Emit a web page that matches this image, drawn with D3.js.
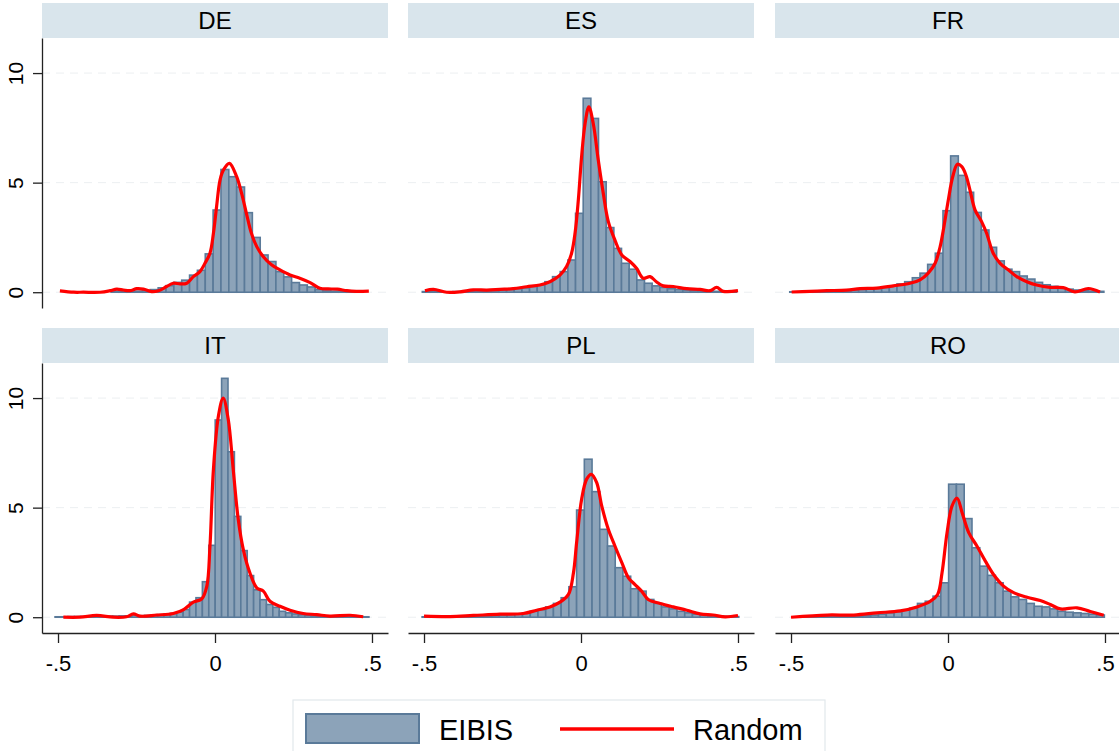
<!DOCTYPE html>
<html>
<head>
<meta charset="utf-8">
<script src="https://cdn.jsdelivr.net/npm/d3@7"></script>
<style>
  body { margin: 0; background: #fff; }
  text { font-family: "Liberation Sans", Arial, sans-serif; fill: #000; }
</style>
</head>
<body>
<div id="chart"></div>
<script>
const countries = ["DE", "ES", "FR", "IT", "PL", "RO"];
const yTicks = [0, 5, 10];
const xTicks = [-0.5, 0, 0.5];
const xTickLabels = ["-.5", "0", ".5"];
const seriesNames = ["EIBIS", "Random"];

// histogram: first bin edge and bin width per country
const binStart = [-0.506, -0.5054, -0.504, -0.5094, -0.506, -0.494];
const binWidth = [0.025, 0.0244, 0.0244, 0.0204, 0.0246, 0.0248];

// EIBIS densities per bin
const deBars = [0, 0, 0, 0, 0, 0, 0, 0.05, 0.05, 0.02, 0.05, 0.08, 0.12, 0.2, 0.3, 0.45, 0.55, 0.78, 1.0, 1.75,
  3.75, 5.6, 5.27, 4.8, 3.63, 2.5, 1.7, 1.4, 0.94, 0.7, 0.44, 0.33, 0.24, 0.12, 0.06, 0.05, 0.03, 0.02, 0.01, 0];
const esBars = [0.03, 0.02, 0.02, 0.02, 0.03, 0.03, 0.04, 0.05, 0.06, 0.08, 0.1, 0.12, 0.16, 0.2, 0.26, 0.33, 0.48, 0.71, 0.94, 1.47,
  3.6, 8.85, 7.93, 5.04, 2.95, 2.0, 1.32, 1.05, 0.56, 0.41, 0.29, 0.22, 0.16, 0.12, 0.1, 0.08, 0.06, 0.05, 0.04, 0.03, 0.02];
const frBars = [0.02, 0.02, 0.03, 0.03, 0.04, 0.05, 0.06, 0.08, 0.1, 0.12, 0.14, 0.17, 0.22, 0.29, 0.38, 0.48, 0.66, 0.87, 1.27, 1.78,
  3.72, 6.22, 5.33, 4.56, 3.64, 2.84, 2.05, 1.43, 1.05, 0.94, 0.74, 0.6, 0.45, 0.34, 0.27, 0.2, 0.14, 0.1, 0.07, 0.05, 0.04];
const itBars = [0.02, 0.02, 0.03, 0.03, 0.03, 0.04, 0.04, 0.04, 0.05, 0.05, 0.06, 0.06, 0.1, 0.07, 0.08, 0.1, 0.12, 0.14, 0.17, 0.23,
  0.35, 0.69, 0.89, 1.62, 3.28, 9.0, 10.9, 7.55, 4.6, 3.04, 1.9, 1.25, 0.8, 0.58, 0.45, 0.27, 0.2, 0.15, 0.11, 0.09,
  0.07, 0.05, 0.04, 0.04, 0.03, 0.03, 0.02, 0.02, 0.02];
const plBars = [0.02, 0.02, 0.02, 0.02, 0.03, 0.03, 0.04, 0.05, 0.07, 0.08, 0.1, 0.12, 0.15, 0.2, 0.27, 0.34, 0.47, 0.63, 0.89, 1.39,
  4.89, 7.21, 5.73, 4.01, 3.25, 2.26, 1.87, 1.3, 1.19, 0.81, 0.63, 0.47, 0.38, 0.27, 0.2, 0.14, 0.1, 0.07, 0.05, 0.04, 0.03];
const roBars = [0.01, 0.02, 0.02, 0.02, 0.03, 0.03, 0.04, 0.05, 0.06, 0.08, 0.1, 0.14, 0.2, 0.25, 0.34, 0.41, 0.63, 0.73, 0.96, 1.57,
  6.07, 6.07, 4.5, 3.17, 2.33, 1.91, 1.57, 1.19, 0.93, 0.81, 0.63, 0.5, 0.47, 0.38, 0.27, 0.23, 0.2, 0.17, 0.14, 0.1];

// Random: kernel density points [x, density]
const deLine = [[-0.494, 0.06], [-0.45, 0.0], [-0.419, 0.0], [-0.366, 0.0], [-0.334, 0.07], [-0.313, 0.14], [-0.292, 0.1],
  [-0.271, 0.07], [-0.249, 0.16], [-0.228, 0.14], [-0.202, 0.03], [-0.18, 0.07], [-0.154, 0.26], [-0.133, 0.41],
  [-0.111, 0.38], [-0.09, 0.41], [-0.069, 0.71], [-0.048, 0.94], [-0.032, 1.32], [-0.016, 1.78], [-0.005, 2.69],
  [0.005, 3.9], [0.016, 5.12], [0.027, 5.58], [0.046, 5.88], [0.069, 5.27], [0.085, 4.5], [0.1, 3.6], [0.116, 2.69],
  [0.133, 2.08], [0.154, 1.62], [0.18, 1.25], [0.207, 1.02], [0.239, 0.79], [0.27, 0.64], [0.303, 0.44], [0.334, 0.18],
  [0.36, 0.15], [0.39, 0.14], [0.42, 0.07], [0.45, 0.04], [0.49, 0.05]];
const esLine = [[-0.497, 0.07], [-0.47, 0.13], [-0.428, 0.0], [-0.385, 0.02], [-0.343, 0.11], [-0.3, 0.1], [-0.258, 0.13],
  [-0.216, 0.16], [-0.173, 0.25], [-0.131, 0.33], [-0.099, 0.48], [-0.067, 0.78], [-0.046, 1.17], [-0.03, 1.78],
  [-0.019, 2.69], [-0.0085, 4.21], [0.002, 6.2], [0.013, 7.7], [0.025, 8.46], [0.039, 7.7], [0.055, 6.03], [0.071, 4.51],
  [0.087, 3.22], [0.108, 2.38], [0.13, 1.7], [0.156, 1.4], [0.177, 1.09], [0.198, 0.64], [0.22, 0.71], [0.24, 0.48],
  [0.262, 0.29], [0.294, 0.26], [0.337, 0.16], [0.379, 0.13], [0.411, 0.07], [0.432, 0.22], [0.453, 0.04], [0.5, 0.07]];
const frLine = [[-0.498, 0.01], [-0.44, 0.04], [-0.386, 0.07], [-0.323, 0.1], [-0.28, 0.16], [-0.227, 0.19], [-0.174, 0.29],
  [-0.121, 0.41], [-0.089, 0.56], [-0.063, 0.87], [-0.041, 1.32], [-0.025, 2.08], [-0.013, 2.99], [0.001, 4.21],
  [0.015, 5.27], [0.03, 5.84], [0.044, 5.73], [0.057, 5.35], [0.07, 4.66], [0.086, 3.76], [0.107, 3.22], [0.123, 2.69],
  [0.144, 1.78], [0.166, 1.32], [0.192, 1.02], [0.219, 0.71], [0.251, 0.48], [0.282, 0.33], [0.325, 0.22], [0.367, 0.21],
  [0.404, 0.02], [0.447, 0.17], [0.484, 0.01]];
const itLine = [[-0.483, 0.0], [-0.43, 0.0], [-0.377, 0.08], [-0.324, 0.0], [-0.282, 0.02], [-0.26, 0.15], [-0.239, 0.05],
  [-0.186, 0.1], [-0.133, 0.17], [-0.1, 0.35], [-0.069, 0.69], [-0.042, 0.84], [-0.026, 1.42], [-0.016, 3.25],
  [-0.005, 6.75], [0.011, 9.19], [0.026, 10.0], [0.042, 9.04], [0.058, 6.75], [0.074, 4.47], [0.09, 3.1], [0.111, 2.03],
  [0.133, 1.34], [0.154, 1.19], [0.175, 0.73], [0.207, 0.5], [0.239, 0.32], [0.281, 0.17], [0.324, 0.12], [0.366, 0.05],
  [0.43, 0.09], [0.472, 0.02]];
const plLine = [[-0.5, 0.05], [-0.417, 0.03], [-0.343, 0.08], [-0.258, 0.14], [-0.184, 0.17], [-0.141, 0.32], [-0.099, 0.47],
  [-0.067, 0.69], [-0.04, 1.04], [-0.024, 2.03], [-0.014, 3.4], [0.002, 5.38], [0.018, 6.3], [0.033, 6.52], [0.05, 6.14],
  [0.066, 5.08], [0.087, 4.01], [0.108, 3.25], [0.13, 2.49], [0.151, 1.8], [0.172, 1.49], [0.193, 1.19], [0.214, 0.81],
  [0.252, 0.63], [0.294, 0.47], [0.337, 0.32], [0.379, 0.15], [0.421, 0.1], [0.459, 0.02], [0.5, 0.08]];
const roLine = [[-0.5, 0.0], [-0.385, 0.1], [-0.3, 0.1], [-0.226, 0.2], [-0.152, 0.29], [-0.099, 0.47], [-0.056, 0.73],
  [-0.033, 1.04], [-0.019, 2.03], [-0.003, 3.86], [0.013, 5.08], [0.029, 5.43], [0.045, 4.77], [0.066, 3.86],
  [0.092, 3.25], [0.119, 2.56], [0.145, 1.95], [0.177, 1.42], [0.209, 1.12], [0.252, 0.91], [0.294, 0.76], [0.326, 0.58],
  [0.358, 0.38], [0.411, 0.43], [0.453, 0.26], [0.496, 0.09]];

const bars = [deBars, esBars, frBars, itBars, plBars, roBars];
const lines = [deLine, esLine, frLine, itLine, plLine, roLine];

const width = 1119, height = 751;
const panelW = 346, stripH = 35, plotH = 270;
const colX = [42, 408, 775];
const rowY = [3, 328];

const barFill = "#8ca3b9", barStroke = "#5a7a99", red = "#ff0000";

const svg = d3.select("#chart").append("svg")
  .attr("width", width)
  .attr("height", height)
  .attr("viewBox", [0, 0, width, height]);

const x = d3.scaleLinear().domain([-0.551, 0.551]).range([0, panelW]);
const y = d3.scaleLinear().domain([-0.72, 11.6]).range([plotH, 0]);

const line = d3.line()
  .x(d => x(d[0]))
  .y(d => y(d[1]))
  .curve(d3.curveCatmullRom.alpha(0.5));

countries.forEach((c, i) => {
  const col = i % 3, row = Math.floor(i / 3);
  const g = svg.append("g").attr("transform", `translate(${colX[col]},${rowY[row]})`);

  // strip
  g.append("rect")
    .attr("width", panelW)
    .attr("height", stripH)
    .attr("fill", "#d9e5ec");
  g.append("text")
    .attr("x", panelW / 2)
    .attr("y", 26)
    .attr("text-anchor", "middle")
    .style("font-size", "24px")
    .text(c);

  const p = g.append("g").attr("transform", `translate(0,${stripH})`);

  // grid
  p.selectAll("line.grid").data(yTicks).join("line")
    .attr("class", "grid")
    .attr("x1", 0).attr("x2", panelW)
    .attr("y1", d => y(d)).attr("y2", d => y(d))
    .attr("stroke", "#eceff1")
    .attr("stroke-width", 1)
    .attr("stroke-dasharray", "8,6");

  // bars
  const bins = bars[i].map((h, k) => ({
    x0: binStart[i] + k * binWidth[i],
    x1: binStart[i] + (k + 1) * binWidth[i],
    h
  })).filter(d => d.h > 0);
  p.selectAll("rect.bar").data(bins).join("rect")
    .attr("class", "bar")
    .attr("x", d => x(d.x0))
    .attr("y", d => y(d.h))
    .attr("width", d => x(d.x1) - x(d.x0))
    .attr("height", d => y(0) - y(d.h))
    .attr("fill", barFill)
    .attr("stroke", barStroke)
    .attr("stroke-width", 1.6);

  // density line
  p.append("path")
    .datum(lines[i])
    .attr("d", line)
    .attr("fill", "none")
    .attr("stroke", red)
    .attr("stroke-width", 3.2)
    .attr("stroke-linejoin", "round");

  if (col === 0) {
    const ax = p.append("g")
      .call(d3.axisLeft(y).tickValues(yTicks).tickSize(9).tickSizeOuter(0).tickFormat(d3.format("d")));
    ax.select(".domain").attr("stroke", "#222").attr("stroke-width", 1.3);
    ax.selectAll(".tick line").attr("stroke", "#222").attr("stroke-width", 1.3);
    ax.selectAll(".tick text")
      .attr("transform", "rotate(-90)")
      .attr("x", 0).attr("y", -19).attr("dy", 0)
      .attr("text-anchor", "middle")
      .style("font-size", "21px")
      .style("fill", "#000");
  }

  if (row === 1) {
    const ax = p.append("g")
      .attr("transform", `translate(0,${plotH})`)
      .call(d3.axisBottom(x).tickValues(xTicks).tickSize(10).tickSizeOuter(0)
        .tickFormat((d, k) => xTickLabels[k]));
    ax.select(".domain").attr("stroke", "#222").attr("stroke-width", 1.3);
    ax.selectAll(".tick line").attr("stroke", "#222").attr("stroke-width", 1.3);
    ax.selectAll(".tick text")
      .attr("y", 38).attr("dy", 0)
      .style("font-size", "22px")
      .style("fill", "#000");
  }
});

// legend
const lg = svg.append("g").attr("transform", "translate(293,700)");
lg.append("rect")
  .attr("width", 532).attr("height", 60)
  .attr("fill", "#fff")
  .attr("stroke", "#e2e8ec")
  .attr("stroke-width", 1.2);
lg.append("rect")
  .attr("x", 13).attr("y", 14)
  .attr("width", 113).attr("height", 29)
  .attr("fill", barFill)
  .attr("stroke", barStroke)
  .attr("stroke-width", 2);
lg.append("text")
  .attr("x", 146).attr("y", 40)
  .style("font-size", "29px")
  .text(seriesNames[0]);
lg.append("line")
  .attr("x1", 267).attr("x2", 381)
  .attr("y1", 29).attr("y2", 29)
  .attr("stroke", red)
  .attr("stroke-width", 3.5);
lg.append("text")
  .attr("x", 400).attr("y", 40)
  .style("font-size", "29px")
  .text(seriesNames[1]);
</script>
</body>
</html>
